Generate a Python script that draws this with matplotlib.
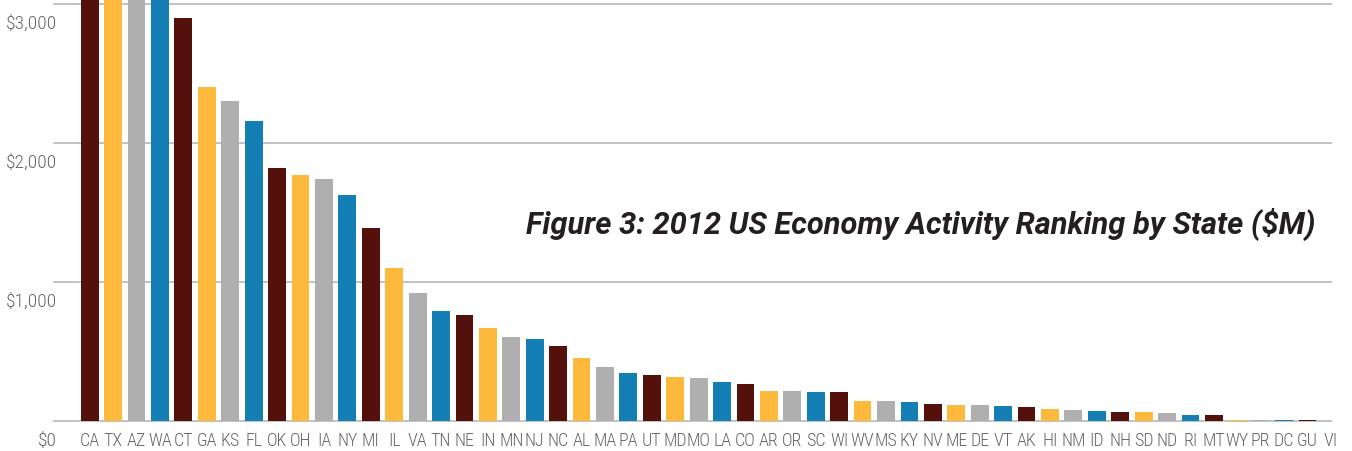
import matplotlib
matplotlib.use("Agg")
import matplotlib.pyplot as plt
from matplotlib import font_manager
import matplotlib.transforms as mtransforms

states = ['CA', 'TX', 'AZ', 'WA', 'CT', 'GA', 'KS', 'FL', 'OK', 'OH',
          'IA', 'NY', 'MI', 'IL', 'VA', 'TN', 'NE', 'IN', 'MN', 'NJ',
          'NC', 'AL', 'MA', 'PA', 'UT', 'MD', 'MO', 'LA', 'CO', 'AR',
          'OR', 'SC', 'WI', 'WV', 'MS', 'KY', 'NV', 'ME', 'DE', 'VT',
          'AK', 'HI', 'NM', 'ID', 'NH', 'SD', 'ND', 'RI', 'MT', 'WY',
          'PR', 'DC', 'GU', 'VI']
values = [4800, 4200, 3700, 3300, 2900, 2400, 2300, 2160, 1820, 1770,
          1740, 1625, 1390, 1100, 920, 790, 765, 670, 605, 590,
          540, 455, 390, 345, 330, 318, 310, 280, 267, 218,
          216, 208, 208, 145, 145, 137, 122, 115, 115, 108,
          101, 86, 79, 72, 65, 65, 58, 43, 43, 10,
          8, 5, 5, 3]
yticks = [0, 1000, 2000, 3000]
ytick_labels = ['$0', '$1,000', '$2,000', '$3,000']
palette = ['#54100B', '#FDB93B', '#AFAFAF', '#137FB4']
title = 'Figure 3: 2012 US Economy Activity Ranking by State ($M)'

available = {f.name for f in font_manager.fontManager.ttflist}
fam = 'DejaVu Sans'
narrow = False
for cand in ['Roboto Condensed', 'Liberation Sans Narrow', 'Open Sans Condensed', 'Noto Sans Condensed']:
    if cand in available:
        fam = cand
        narrow = True
        break
title_fam = 'Roboto' if 'Roboto' in available else fam

fig = plt.figure(figsize=(13.52, 4.52), dpi=100)
ax = fig.add_axes([54 / 1352, 30 / 452, (1331 - 54) / 1352, (447 - 30) / 452])

x = list(range(len(states)))
colors = [palette[i % 4] for i in x]
bars = ax.bar(x, values, width=0.76, color=colors, zorder=3, clip_on=False)
bars[-1].set_alpha(0.3)

ax.set_xlim(-1.525, 52.58)
ax.set_ylim(0, 3000)
for v in yticks:
    ax.axhline(v, color='#BDBDBD', lw=1.3, zorder=1, clip_on=False)

for s in ax.spines.values():
    s.set_visible(False)
ax.set_yticks([])
ax.set_xticks(x)
tick_fs = 13 if narrow else 10
ax.set_xticklabels(states, fontsize=tick_fs, color='#666666', family=fam,
                   fontweight='light')
ax.tick_params(axis='x', length=0, pad=7.5)
for lbl in ax.get_xticklabels():
    lbl.set_clip_on(False)

off = mtransforms.ScaledTranslation(3 / 100, -10 / 100, fig.dpi_scale_trans)
trans = mtransforms.blended_transform_factory(ax.transAxes, ax.transData) + off
for v, t in zip(yticks, ytick_labels):
    ax.text(0, v, t, transform=trans, ha='right', va='top', fontsize=tick_fs + 1,
            color='#666666', family=fam, fontweight='light')

fig.text(0.681, 0.504, title, ha='center', va='center',
         fontsize=22.2, fontweight='bold', fontstyle='italic',
         color='#231F20', family=title_fam)

fig.savefig('out.png', dpi=100)
